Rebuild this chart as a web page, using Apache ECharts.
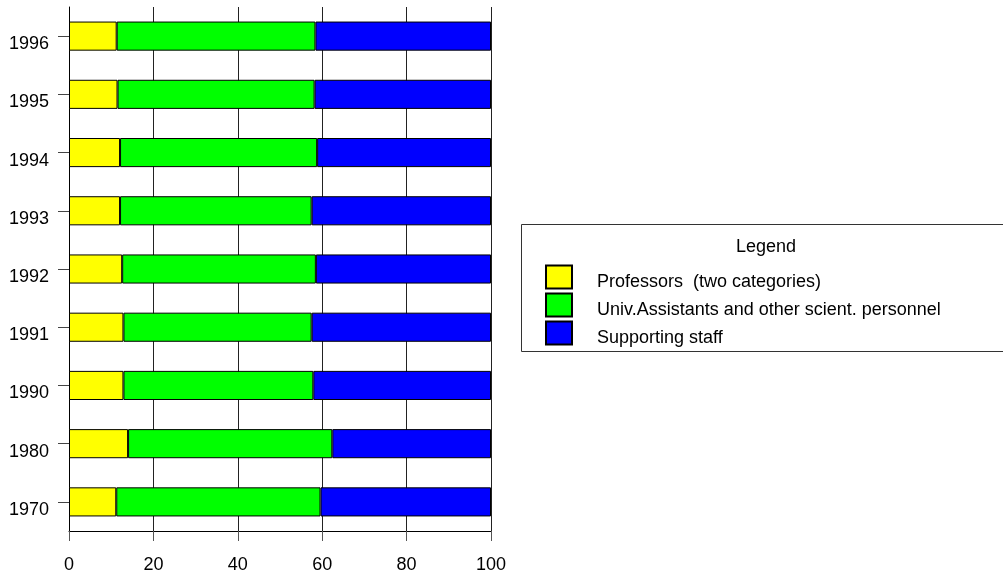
<!DOCTYPE html>
<html>
<head>
<meta charset="utf-8">
<script src="https://cdn.jsdelivr.net/npm/echarts@6/dist/echarts.min.js"></script>
<style>html,body{margin:0;padding:0;background:#fff}#c{width:1003px;height:576px}</style>
</head>
<body>
<div id="c"></div>
<script>
const years = ['1970','1980','1990','1991','1992','1993','1994','1995','1996'];
const professors = [11.2, 14.0, 12.9, 12.9, 12.6, 12.1, 12.1, 11.5, 11.3];
const assistants = [48.4, 48.4, 45.0, 44.6, 45.9, 45.4, 46.7, 46.7, 47.1];
const supporting = [40.4, 37.6, 42.1, 42.5, 41.5, 42.5, 41.2, 41.8, 41.6];
const seriesNames = ['Professors  (two categories)', 'Univ.Assistants and other scient. personnel', 'Supporting staff'];
const colors = ['#ffff00', '#00ff00', '#0000ff'];
const xTicks = [0, 20, 40, 60, 80, 100];

const font = "'Liberation Sans', Arial, sans-serif";
const chart = echarts.init(document.getElementById('c'));
const dataSets = [professors, assistants, supporting];
chart.setOption({
  animation: false,
  textStyle: { fontFamily: font },
  grid: { left: 69, right: 512, top: 7, bottom: 45, containLabel: false },
  xAxis: {
    type: 'value', min: xTicks[0], max: xTicks[xTicks.length - 1], interval: 20,
    axisLine: { show: true, lineStyle: { color: '#000', width: 1 } },
    axisTick: { show: true, length: 10, lineStyle: { color: '#555' } },
    axisLabel: { color: '#000', fontSize: 18, margin: 25, fontFamily: font },
    splitLine: { show: true, lineStyle: { color: '#222', width: 1 } }
  },
  yAxis: {
    type: 'category', data: years,
    axisLine: { show: true, lineStyle: { color: '#000', width: 1 } },
    axisTick: { show: true, length: 11, alignWithLabel: true, lineStyle: { color: '#444' } },
    axisLabel: { color: '#000', fontSize: 18, margin: 20, fontFamily: font, verticalAlign: 'top', lineHeight: 16 },
    splitLine: { show: false }
  },
  legend: {
    orient: 'vertical', left: 540, top: 258,
    itemWidth: 26, itemHeight: 23, itemGap: 0,
    icon: 'rect',
    data: seriesNames,
    formatter: name => '{t|' + name + '}',
    textStyle: {
      fontSize: 18, color: '#000', fontFamily: font,
      rich: { t: { fontSize: 18, color: '#000', fontFamily: font, lineHeight: 18, padding: [10, 0, 0, 20] } }
    }
  },
  graphic: [
    { type: 'rect', shape: { x: 521.5, y: 224.5, width: 500, height: 127 }, style: { fill: 'none', stroke: '#333', lineWidth: 1 }, z: 0 },
    { type: 'text', x: 766, y: 247, style: { text: 'Legend', font: '18px ' + font, fill: '#000', textAlign: 'center', textVerticalAlign: 'middle' } }
  ],
  series: seriesNames.map((n, i) => ({
    name: n, type: 'bar', stack: 'total', barWidth: '50%',
    data: dataSets[i],
    itemStyle: { color: colors[i], borderColor: '#000', borderWidth: 1 }
  }))
});
</script>
</body>
</html>
